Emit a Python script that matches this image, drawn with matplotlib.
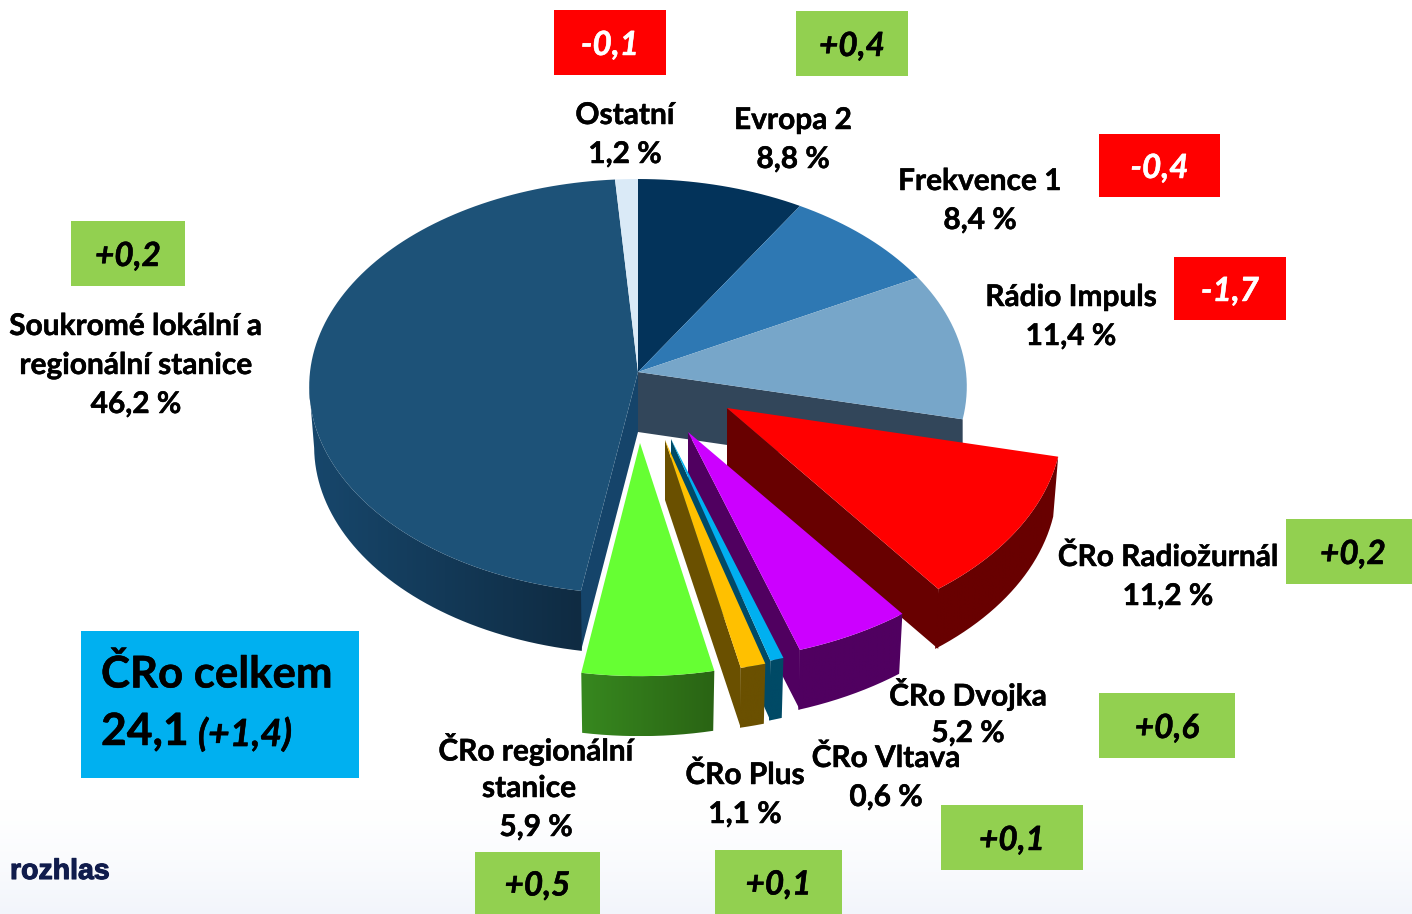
import matplotlib
matplotlib.use("Agg")
import matplotlib.pyplot as plt
import matplotlib.patheffects as pe
from matplotlib.colors import to_rgb
from matplotlib.patches import Rectangle, Polygon
import numpy as np

plt.rcParams['font.family'] = ['Lato', 'DejaVu Sans']

###################################
# data

stations = ['Evropa 2', 'Frekvence 1', 'Rádio Impuls', 'ČRo Radiožurnál', 'ČRo Dvojka',
            'ČRo Vltava', 'ČRo Plus', 'ČRo regionální stanice',
            'Soukromé lokální a regionální stanice', 'Ostatní']
shares = [8.8, 8.4, 11.4, 11.2, 5.2, 0.6, 1.1, 5.9, 46.2, 1.2]
changes = [0.4, -0.4, -1.7, 0.2, 0.6, 0.1, 0.1, 0.5, 0.2, -0.1]
total_share = 24.1
total_change = 1.4

###################################
# look of the pie

top_colors = ['#03335a', '#2e78b3', '#77a6c9', '#ff0000', '#cc00ff',
              '#00b0f0', '#ffc000', '#66ff33', '#1d5278', '#daeaf7']
# outer wall, colour on its left and on its right
wall_colors = [None, None, None, ('#680000', '#680000'), ('#500060', '#500060'),
               ('#004a66', '#004a66'), ('#6a5000', '#6a5000'), ('#37881f', '#2a6414'),
               ('#17476c', '#0f2b42'), None]
side_colors = [None, None, '#32465a', '#680000', '#500060', '#004a66', '#6a5000',
               None, '#15446a', None]
apex_x = [638, 638, 638, 727, 688, 671, 665, 640, 638, 638]
apex_y = [372, 372, 372, 408, 432, 439, 440, 443, 372, 372]
scale_x = [1, 1, 1, 1.02, 1.035, 1.04, 1.05, 1.03, 1, 1]
scale_y = [1, 1, 1, 1.03, 1.035, 1.04, 1.05, 1.05, 1, 1]
# drawn back to front
draw_order = [8, 9, 0, 1, 2, 3, 4, 5, 6, 7]

rx = 328
ry = 207.5
persp = 0.07
depth = 60

# text of the labels: (text, centre x, centre y)
label_lines = [
    ('Ostatní', 625, 115), ('Evropa 2', 793, 120), ('Frekvence 1', 980, 181),
    ('Rádio Impuls', 1071, 297), ('ČRo Radiožurnál', 1168, 557), ('ČRo Dvojka', 968, 694),
    ('ČRo Vltava', 886, 758), ('ČRo Plus', 745, 775), ('ČRo regionální', 536, 749),
    ('stanice', 529, 788), ('Soukromé lokální a', 136, 326), ('regionální stanice', 136, 365),
]
share_pos = [(793, 159), (980, 220), (1071, 336), (1168, 596), (968, 733),
             (886, 797), (745, 814), (536, 827), (136, 404), (625, 154)]
change_boxes = [(796, 11, 908, 76), (1099, 134, 1220, 197), (1174, 257, 1286, 320),
                (1286, 519, 1420, 584), (1099, 693, 1235, 758), (941, 805, 1083, 870),
                (715, 850, 842, 914), (475, 852, 600, 914), (71, 221, 185, 286),
                (554, 10, 666, 75)]

heavy = [pe.withStroke(linewidth=0.35, foreground='black')]
heavy_white = [pe.withStroke(linewidth=0.35, foreground='white')]


def rim(t, i):
    # point on the rim of slice i, t in degrees clockwise from the top
    a = np.radians(t)
    w = 1 - persp * np.cos(a)
    return (apex_x[i] + scale_x[i] * rx * np.sin(a) * w,
            apex_y[i] - scale_y[i] * ry * np.cos(a) * w)


def fmt(v):
    return f"{v:.1f}".replace('.', ',')


fig = plt.figure(figsize=(14.12, 9.14), dpi=100)
ax = fig.add_axes([0, 0, 1, 1])

# pale band at the foot of the slide
fade = np.linspace(0, 1, 120)[:, None, None] ** 1.5
band = 1 - fade * (1 - np.array(to_rgb('#f2f5fb')))[None, None, :]
ax.imshow(band, extent=(0, 1412, 914, 800), aspect='auto', zorder=0)
ax.axis('off')

edges = np.concatenate([[0], np.cumsum(shares)]) / sum(shares) * 360

z = 2
for i in draw_order:
    t0, t1 = edges[i], edges[i + 1]
    ts = np.linspace(t0, t1, max(4, int((t1 - t0) / 1.5)))
    xs, ys = rim(ts, i)

    # flat wall along a cut edge
    if side_colors[i]:
        ex, ey = rim(t0 if i == 8 else t1, i)
        ax.fill([apex_x[i], ex, ex, apex_x[i]], [apex_y[i], ey, ey + depth, apex_y[i] + depth],
                color=side_colors[i], lw=0, zorder=z)
        z += 1

    # outer wall, shaded from left to right, up to where the rim turns away
    if wall_colors[i]:
        seg = ts[:np.argmin(xs) + 1]
        wx, wy = rim(seg, i)
        wx2 = apex_x[i] + (wx - apex_x[i]) * 0.985
        outline = np.c_[np.r_[wx, wx2[::-1]], np.r_[wy, wy[::-1] + depth]]
        shade = np.linspace(0, 1, 128)[None, :, None]
        left, right = np.array(to_rgb(wall_colors[i][0])), np.array(to_rgb(wall_colors[i][1]))
        img = ax.imshow(left[None, None, :] * (1 - shade) + right[None, None, :] * shade,
                        extent=(outline[:, 0].min(), outline[:, 0].max(),
                                outline[:, 1].max(), outline[:, 1].min()),
                        aspect='auto', zorder=z)
        img.set_clip_path(Polygon(outline, transform=ax.transData))
        z += 1

    ax.fill(np.r_[apex_x[i], xs], np.r_[apex_y[i], ys], color=top_colors[i], lw=0, zorder=z)
    z += 1
ax.set_xlim(0, 1412)
ax.set_ylim(914, 0)

# labels
for text, x, y in label_lines:
    ax.text(x, y, text, ha='center', va='center', fontsize=21.5, fontweight='bold', color='black',
            zorder=50, path_effects=heavy)
for v, (x, y) in zip(shares, share_pos):
    ax.text(x, y, fmt(v) + ' %', ha='center', va='center', fontsize=21.5, fontweight='bold',
            color='black', zorder=50, path_effects=heavy)

# change boxes
for v, (x0, y0, x1, y1) in zip(changes, change_boxes):
    col = '#92d050' if v > 0 else '#ff0000'
    ax.add_patch(Rectangle((x0, y0), x1 - x0, y1 - y0, facecolor=col, lw=0, zorder=40))
    ax.text((x0 + x1) / 2, (y0 + y1) / 2 + 3, f"{v:+.1f}".replace('.', ','), ha='center', va='center',
            fontsize=24, fontweight='bold', fontstyle='italic',
            color='black' if v > 0 else 'white', zorder=41,
            path_effects=heavy if v > 0 else heavy_white)

# total box
ax.add_patch(Rectangle((81, 631), 278, 147, facecolor='#00b0f0', lw=0, zorder=40))
ax.text(101, 674, 'ČRo celkem', ha='left', va='center', fontsize=31.5, fontweight='bold', zorder=41,
        path_effects=heavy)
ax.text(101, 732, fmt(total_share), ha='left', va='center', fontsize=32, fontweight='bold', zorder=41,
        path_effects=heavy)
ax.text(198, 734, f"({total_change:+.1f})".replace('.', ','), ha='left', va='center', fontsize=27,
        fontweight='bold', fontstyle='italic', zorder=41, path_effects=heavy)

# logo text
ax.text(10, 872, 'rozhlas', ha='left', va='center', fontsize=20.5, fontweight='bold',
        family='Liberation Sans', color='#101c4c', zorder=41,
        path_effects=[pe.withStroke(linewidth=0.8, foreground='#101c4c')])

plt.savefig('out.png', dpi=100)
